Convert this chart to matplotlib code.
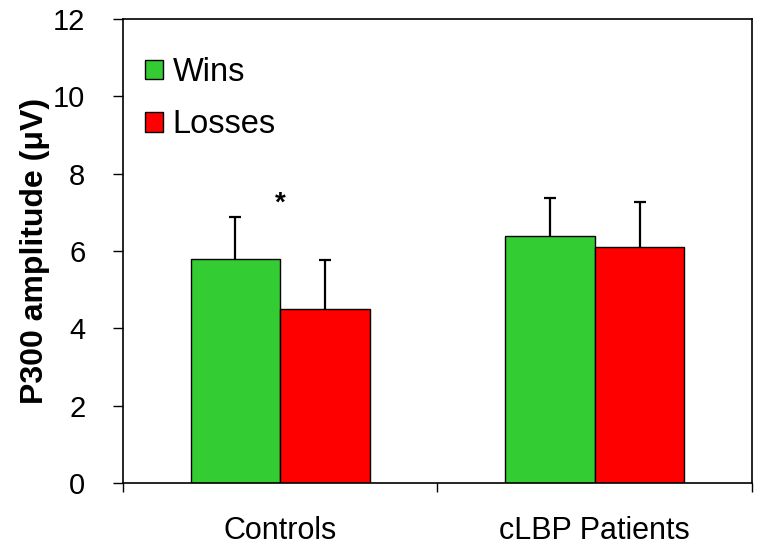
import matplotlib
matplotlib.use('Agg')
import matplotlib.pyplot as plt
import numpy as np
from matplotlib.patches import Patch
from matplotlib.ticker import FixedLocator

plt.rcParams['font.family'] = ['Liberation Sans', 'DejaVu Sans']

# data
groups = ['Controls', 'cLBP Patients']
wins = [5.8, 6.4]
wins_err = [1.07, 0.98]
losses = [4.5, 6.1]
losses_err = [1.28, 1.16]
series = ['Wins', 'Losses']
y_ticks = [0, 2, 4, 6, 8, 10, 12]

green = '#33CC33'
red = '#FF0000'

fig = plt.figure(figsize=(7.6, 5.52), dpi=100)
ax = fig.add_axes([0.1618, 0.125, 0.8276, 0.8406])

x = np.arange(len(groups))
w = 0.285
ax.bar(x - w / 2, wins, w, color=green, edgecolor='black', linewidth=1.0, zorder=2)
ax.bar(x + w / 2, losses, w, color=red, edgecolor='black', linewidth=1.0, zorder=2)
# symmetric error bars drawn behind the bars, so only the upper half shows
ax.errorbar(x - w / 2, wins, yerr=wins_err, fmt='none',
            ecolor='black', elinewidth=1.6, capsize=4.5, capthick=1.6, zorder=1)
ax.errorbar(x + w / 2, losses, yerr=losses_err, fmt='none',
            ecolor='black', elinewidth=1.6, capsize=4.5, capthick=1.6, zorder=1)

# significance marker
ax.text(0, 7.04, '*', ha='center', va='baseline', fontsize=20, fontweight='bold')

ax.set_xlim(-0.5, 1.5)
ax.set_ylim(0, 12)
ax.set_yticks(y_ticks)
ax.tick_params(axis='y', direction='out', length=7, width=1.0, pad=20, labelsize=21)

ax.set_xticks(x)
ax.set_xticklabels(groups)
ax.xaxis.set_minor_locator(FixedLocator([-0.5, 0.5, 1.5]))
ax.tick_params(axis='x', which='major', length=0, pad=23.5, labelsize=22)
ax.tick_params(axis='x', which='minor', direction='out', length=6.5, width=1.0)

for s in ax.spines.values():
    s.set_linewidth(1.2)

ax.set_ylabel('P300 amplitude (\u03bcV)', fontsize=23, fontweight='bold', labelpad=2)

handles = [Patch(facecolor=green, edgecolor='black', linewidth=1.0),
           Patch(facecolor=red, edgecolor='black', linewidth=1.0)]
ax.legend(handles, series, loc='upper left', bbox_to_anchor=(0.035, 0.918),
          frameon=False, fontsize=23.5, handlelength=0.56, handleheight=0.56,
          handletextpad=0.28, labelspacing=0.65, borderpad=0, borderaxespad=0)

fig.savefig('out.png', dpi=100)
